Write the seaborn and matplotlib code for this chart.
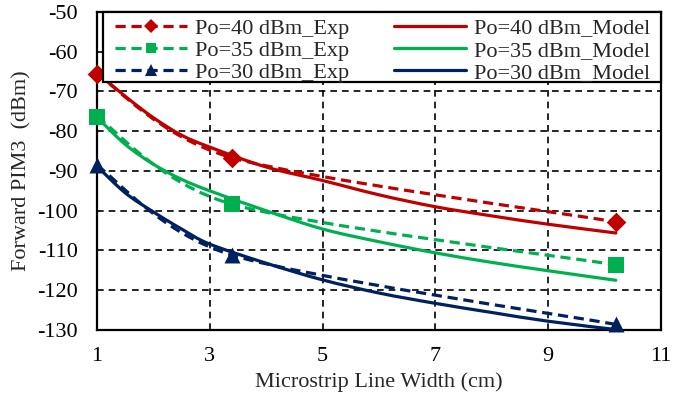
import matplotlib
matplotlib.use("Agg")
import matplotlib.pyplot as plt
import seaborn as sns
import numpy as np
import pandas as pd
from matplotlib.path import Path
from matplotlib.patches import PathPatch, Rectangle
from matplotlib.lines import Line2D

# ---------------- data ----------------
x_exp = [1, 3.4, 10.2]
exp_40 = [-65.6, -86.7, -102.8]
exp_35 = [-76.4, -98.4, -113.6]
exp_30 = [-88.6, -111.2, -128.6]

x_model = [1, 1.5, 2, 2.5, 3, 4, 5, 6, 7, 8, 9, 10.2]
model_40 = [-65.3, -71.2, -76.6, -81.0, -84.0, -89.0, -92.4, -96.0, -99.0, -101.3, -103.4, -105.6]
model_35 = [-76.5, -83.3, -88.3, -92.1, -95.0, -100.0, -104.6, -107.8, -110.6, -113.0, -115.1, -117.5]
model_30 = [-88.8, -95.5, -100.3, -104.6, -108.4, -113.2, -117.4, -120.7, -123.3, -125.6, -127.8, -129.9]

labels_exp = ["Po=40 dBm_Exp", "Po=35 dBm_Exp", "Po=30 dBm_Exp"]
labels_model = ["Po=40 dBm_Model", "Po=35 dBm_Model", "Po=30 dBm_Model"]

x_ticks = [1, 3, 5, 7, 9, 11]
y_ticks = [-130, -120, -110, -100, -90, -80, -70, -60, -50]

colors = ["#C00000", "#00B050", "#002060"]
markers = ["D", "s", "^"]
marker_sizes = [10, 11, 11.5]
legend_marker_sizes = [7, 7.5, 9]

# ---------------- style ----------------
sns.set_style("white")
plt.rcParams["font.family"] = ["Liberation Serif", "DejaVu Serif"]
plt.rcParams["font.size"] = 16

fig = plt.figure(figsize=(6.73, 3.99), dpi=100)
ax = fig.add_axes([0.1441, 0.173, 0.8380, 0.797])

exp_df = pd.DataFrame({
    "x": x_exp * 3,
    "y": exp_40 + exp_35 + exp_30,
    "series": sum([[l] * 3 for l in labels_exp], []),
})
model_df = pd.DataFrame({
    "x": x_model * 3,
    "y": model_40 + model_35 + model_30,
    "series": sum([[l] * len(x_model) for l in labels_model], []),
})

dash = (0, (3.2, 1.8))
lw = 2.3


def smooth_path(xs, ys, t=0.14):
    """Excel-style smoothed line (Bezier) through the data points."""
    pts = np.column_stack([xs, ys]).astype(float)
    n = len(pts)
    verts = [pts[0]]
    codes = [Path.MOVETO]
    for i in range(n - 1):
        p_prev = pts[i - 1] if i > 0 else pts[i]
        p0 = pts[i]
        p1 = pts[i + 1]
        p_next = pts[i + 2] if i + 2 < n else pts[i + 1]
        c1 = p0 + (p1 - p_prev) * t
        c2 = p1 - (p_next - p0) * t
        verts += [c1, c2, p1]
        codes += [Path.CURVE4] * 3
    return Path(verts, codes)


# model curves (solid, smoothed)
for lab, c in zip(labels_model, colors):
    d = model_df[model_df.series == lab]
    ax.add_patch(PathPatch(smooth_path(d.x.values, d.y.values, 1.0 / 6.0), fill=False,
                           edgecolor=c, lw=lw, capstyle="round", zorder=3))

# experimental curves (dashed, smoothed) + markers
for lab, c, m, ms in zip(labels_exp, colors, markers, marker_sizes):
    d = exp_df[exp_df.series == lab]
    ax.add_patch(PathPatch(smooth_path(d.x.values, d.y.values), fill=False,
                           edgecolor=c, lw=lw, linestyle=dash, zorder=4))
    sns.scatterplot(data=d, x="x", y="y", marker=m, s=ms ** 2, color=c,
                    linewidth=0, ax=ax, zorder=5, legend=False, clip_on=False)

ax.set_xlim(1, 11)
ax.set_ylim(-130, -50)
ax.set_xticks(x_ticks)
ax.set_yticks(y_ticks)
ax.set_xticklabels([str(v) for v in x_ticks])
ax.set_yticklabels([str(v) for v in y_ticks])
ax.tick_params(axis="both", length=0, labelsize=16, colors="black")
ax.tick_params(axis="y", pad=14)
ax.tick_params(axis="x", pad=12)

ax.grid(True, color="black", linestyle=(0, (4, 3)), linewidth=1.2)
ax.set_axisbelow(True)
for s in ax.spines.values():
    s.set_visible(True)
    s.set_color("black")
    s.set_linewidth(1.6)

ax.set_xlabel("Microstrip Line Width (cm)", fontsize=16, labelpad=5)
ax.set_ylabel("Forward PIM3  (dBm)", fontsize=16, labelpad=4)

# legend box (frame drawn separately to match the reference padding)
ax.add_patch(Rectangle((0.0101, 0.780), 0.9899, 0.220, transform=ax.transAxes,
                       facecolor="white", edgecolor="black", lw=1.6,
                       zorder=9, clip_on=False))

handles = []
for lab, c, m, ms in zip(labels_exp, colors, markers, legend_marker_sizes):
    handles.append(Line2D([], [], color=c, lw=lw, linestyle=dash, marker=m,
                          markersize=ms, markeredgewidth=0, label=lab))
for lab, c in zip(labels_model, colors):
    handles.append(Line2D([], [], color=c, lw=lw, label=lab))

leg = ax.legend(handles=handles, ncol=2, loc="upper left",
                bbox_to_anchor=(0.0319, 0.0, 0.9486, 0.981), mode="expand",
                borderaxespad=0, fontsize=16, handlelength=3.25,
                handletextpad=0.35, labelspacing=0.08, borderpad=0.0,
                columnspacing=1.0, frameon=False)
leg.set_zorder(10)

fig.savefig("out.png", dpi=100)
